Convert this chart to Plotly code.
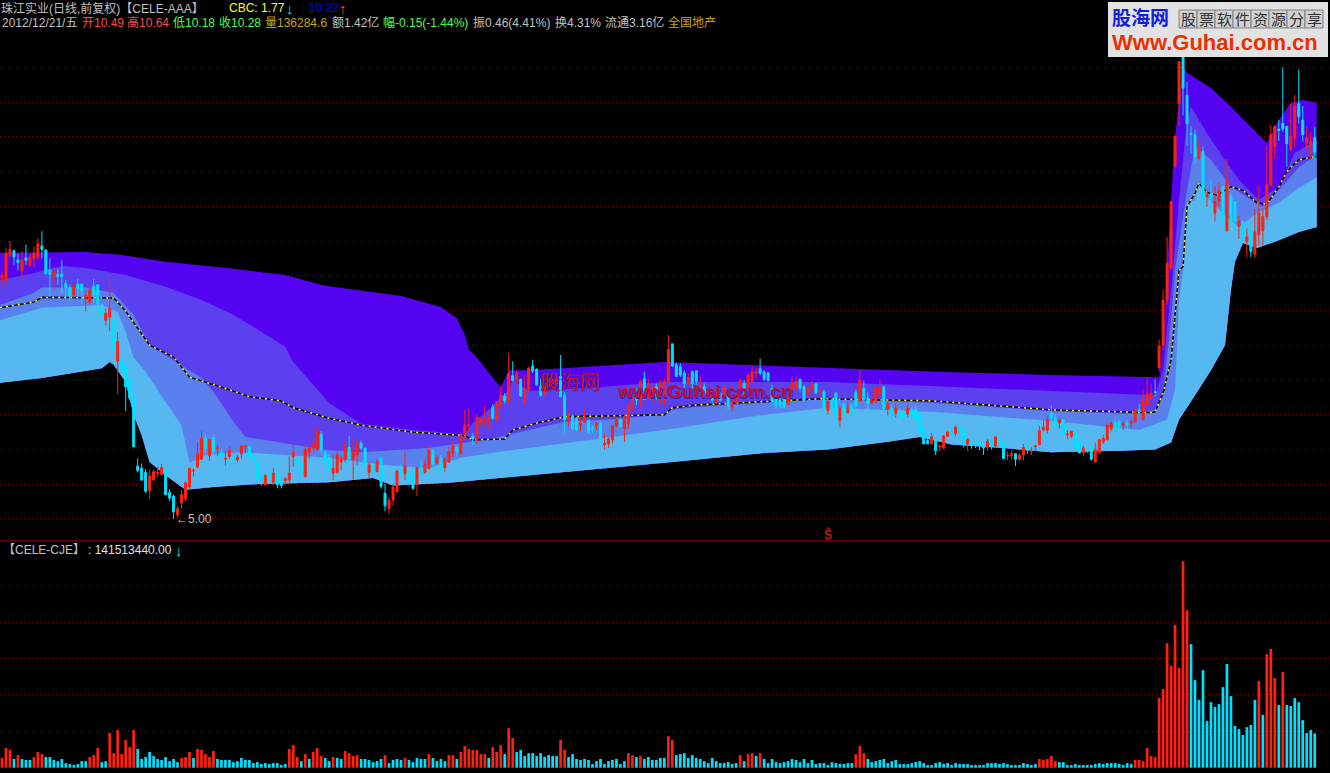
import plotly.graph_objects as go

W, H = 1330, 773

opens = [8.46,8.42,8.80,8.86,8.73,8.57,8.76,8.65,8.75,8.76,
8.93,8.87,8.58,8.49,8.52,8.52,8.39,8.33,8.22,8.38,
8.38,8.18,8.12,8.35,8.37,8.03,7.86,7.91,7.86,7.27,
7.32,7.20,7.00,6.74,5.76,5.73,5.67,5.41,5.56,5.66,
5.64,5.70,5.38,5.33,5.06,5.23,5.29,5.46,5.69,5.75,
5.86,6.16,5.91,6.17,6.01,5.96,5.86,5.90,5.92,5.85,
5.94,6.04,6.04,5.90,5.82,5.61,5.49,5.66,5.53,5.66,
5.54,5.55,5.56,5.90,5.85,5.80,5.61,5.96,6.02,6.00,
6.22,5.96,5.88,5.66,5.67,5.82,5.86,6.03,5.86,5.92,
6.09,6.02,5.67,5.77,5.68,5.87,5.37,5.15,5.27,5.39,
5.71,5.65,5.68,5.61,5.50,5.73,5.67,5.73,5.99,5.80,
5.87,5.74,5.82,5.94,6.03,5.94,6.21,6.34,6.19,6.14,
6.37,6.41,6.41,6.61,6.41,6.64,6.77,6.69,7.06,6.98,
7.01,6.67,6.85,7.20,7.15,6.91,6.78,6.90,6.95,6.93,
7.05,6.78,6.40,6.48,6.45,6.34,6.40,6.42,6.30,6.34,
6.38,6.07,6.08,6.14,6.34,6.43,6.30,6.37,6.58,6.78,
6.66,7.02,6.75,6.71,6.90,6.78,6.66,6.98,7.52,7.22,
7.19,7.10,6.95,7.12,7.13,6.83,6.90,6.78,6.83,6.67,
6.81,6.74,6.78,6.61,6.67,6.81,6.95,6.90,6.98,7.09,
7.16,7.12,7.10,6.88,6.76,6.71,6.74,6.65,6.86,6.88,
7.01,6.90,6.78,6.86,6.95,6.83,6.83,6.56,6.71,6.81,
6.42,6.66,6.53,6.64,6.82,6.70,6.88,6.74,6.66,6.70,
6.81,6.90,6.59,6.59,6.52,6.57,6.53,6.51,6.57,6.57,
6.50,6.30,6.13,6.08,6.14,6.04,6.02,6.19,6.26,6.23,
6.32,6.27,6.08,6.11,6.09,6.11,6.05,6.03,6.13,6.05,
6.15,6.09,5.91,5.91,5.94,5.86,5.92,6.04,5.97,6.04,
6.07,6.28,6.28,6.52,6.45,6.38,6.43,6.21,6.19,6.26,
6.11,5.95,6.04,6.02,5.82,5.95,6.11,6.14,6.30,6.39,
6.40,6.35,6.38,6.37,6.40,6.57,6.43,6.64,6.74,6.83,
7.18,7.50,8.15,8.61,10.08,10.98,11.65,11.10,10.55,10.53,
10.19,10.29,9.64,9.68,9.40,9.57,9.78,9.15,9.64,9.57,
9.21,9.28,8.99,9.18,8.81,9.09,9.15,9.35,9.81,10.36,
10.61,10.69,10.65,10.31,10.48,10.98,10.74,10.41,10.38,10.49]

highs = [8.56,8.89,9.00,8.88,8.82,8.85,8.95,8.82,8.92,9.04,
9.14,8.88,8.75,8.63,8.60,8.73,8.44,8.37,8.37,8.45,
8.38,8.29,8.37,8.45,8.38,8.10,8.03,8.46,7.89,7.69,
7.37,7.26,7.03,6.81,5.87,5.80,5.72,5.71,5.71,5.75,
5.79,5.71,5.43,5.35,5.19,5.42,5.54,5.74,5.73,6.10,
6.27,6.22,6.15,6.22,6.07,6.01,5.98,6.04,5.95,5.92,
6.06,6.06,6.05,5.94,5.83,5.69,5.64,5.69,5.73,5.67,
5.56,5.60,5.90,6.09,5.88,5.86,6.07,6.04,6.19,6.36,
6.27,5.98,5.93,5.92,5.97,5.91,6.15,6.19,6.16,6.16,
6.13,6.02,5.82,5.80,5.86,5.90,5.51,5.32,5.51,5.71,
5.79,5.97,5.73,5.73,5.74,5.85,5.85,6.05,5.99,5.92,
5.92,5.89,6.04,6.11,6.05,6.23,6.57,6.59,6.24,6.50,
6.47,6.63,6.52,6.65,6.69,6.91,6.81,7.39,7.27,7.14,
7.02,7.07,7.19,7.29,7.17,7.02,6.93,7.07,7.05,7.07,
7.36,6.83,6.53,6.50,6.47,6.47,6.56,6.43,6.35,6.39,
6.40,6.23,6.18,6.35,6.47,6.45,6.50,6.66,6.76,6.88,
7.00,7.12,7.01,6.93,6.95,7.00,7.02,7.65,7.52,7.25,
7.24,7.14,7.10,7.14,7.14,7.05,6.95,6.88,6.88,6.83,
6.83,6.93,6.81,6.71,6.81,7.01,7.00,7.10,7.19,7.17,
7.31,7.14,7.12,6.93,6.78,6.74,6.76,6.76,7.05,7.05,
7.02,6.93,6.90,6.98,6.96,6.86,6.86,6.71,6.74,6.83,
6.62,6.66,6.69,6.66,6.86,7.14,6.99,6.82,6.77,6.91,
7.01,6.91,6.69,6.64,6.66,6.59,6.57,6.66,6.59,6.63,
6.51,6.30,6.19,6.24,6.16,6.08,6.21,6.27,6.30,6.35,
6.34,6.29,6.16,6.19,6.14,6.13,6.11,6.15,6.14,6.19,
6.16,6.10,5.97,5.99,5.95,5.95,6.08,6.05,6.03,6.05,
6.34,6.42,6.48,6.63,6.52,6.46,6.44,6.28,6.27,6.26,
6.13,6.05,6.06,6.03,6.10,6.15,6.21,6.37,6.40,6.45,
6.43,6.40,6.43,6.43,6.58,6.66,6.86,7.04,6.94,7.01,
7.58,8.30,9.06,9.57,10.51,11.58,11.85,11.29,10.65,10.60,
10.48,10.36,9.73,9.88,9.79,9.83,9.79,10.18,9.69,9.57,
9.36,9.29,9.18,9.21,9.46,9.79,9.47,10.36,10.67,10.67,
10.74,11.50,10.65,10.97,11.10,11.47,10.94,10.64,10.57,10.64]

lows = [8.32,8.40,8.75,8.65,8.58,8.46,8.65,8.62,8.62,8.73,
8.75,8.52,8.20,8.31,8.37,8.25,8.20,8.14,8.17,8.20,
8.10,7.99,8.10,8.10,7.89,7.77,7.78,7.70,7.42,6.80,
7.13,6.55,6.71,6.03,5.67,5.55,5.37,5.29,5.55,5.60,
5.63,5.34,5.26,5.00,5.02,5.15,5.25,5.43,5.61,5.73,
5.85,5.95,5.84,5.93,5.91,5.85,5.77,5.87,5.82,5.81,
5.87,5.94,5.87,5.81,5.54,5.48,5.48,5.54,5.49,5.44,
5.44,5.48,5.50,5.75,5.74,5.53,5.59,5.86,5.97,5.97,
5.95,5.79,5.68,5.56,5.65,5.70,5.82,5.78,5.57,5.78,
5.99,5.75,5.58,5.65,5.67,5.44,5.11,5.07,5.19,5.38,
5.62,5.56,5.51,5.42,5.33,5.61,5.65,5.71,5.70,5.79,
5.69,5.68,5.81,5.89,5.90,5.93,6.15,6.28,6.06,6.08,
6.35,6.33,6.28,6.43,6.40,6.61,6.66,6.66,6.98,6.93,
6.76,6.65,6.83,7.10,6.91,6.76,6.77,6.88,6.90,6.90,
6.75,6.24,6.33,6.28,6.26,6.26,6.38,6.23,6.24,6.28,
6.10,6.00,6.02,6.09,6.32,6.32,6.11,6.30,6.56,6.64,
6.61,6.71,6.72,6.69,6.71,6.66,6.64,6.95,7.19,7.04,
7.04,6.86,6.93,6.83,6.90,6.81,6.74,6.71,6.66,6.65,
6.69,6.71,6.57,6.54,6.66,6.80,6.78,6.88,6.95,7.02,
7.07,6.99,6.98,6.67,6.58,6.59,6.59,6.64,6.83,6.86,
6.83,6.69,6.77,6.83,6.80,6.74,6.57,6.50,6.54,6.46,
6.32,6.48,6.51,6.46,6.59,6.69,6.70,6.58,6.65,6.67,
6.74,6.56,6.49,6.38,6.46,6.45,6.38,6.46,6.43,6.42,
6.24,6.08,6.08,6.08,5.92,5.98,6.00,6.18,6.18,6.19,
6.21,6.03,5.98,6.01,6.02,5.99,5.92,5.98,6.00,6.03,
6.02,5.86,5.85,5.86,5.76,5.84,5.84,5.94,5.92,5.97,
6.06,6.26,6.23,6.32,6.32,6.30,6.18,6.15,6.16,5.99,
5.95,5.90,5.95,5.84,5.82,5.94,6.08,6.13,6.26,6.28,
6.24,6.28,6.28,6.30,6.39,6.50,6.42,6.63,6.71,6.76,
7.12,7.43,8.08,8.58,10.05,10.65,10.81,10.37,10.26,10.11,
10.17,9.54,9.49,9.41,9.28,9.49,9.21,9.13,9.21,9.16,
9.03,8.97,8.77,8.77,8.75,8.94,8.94,9.30,9.78,10.18,
10.44,10.57,10.07,10.29,10.36,10.69,10.43,10.32,10.17,10.18]

closes = [8.51,8.82,8.88,8.77,8.69,8.73,8.72,8.77,8.82,8.96,
8.88,8.53,8.52,8.55,8.49,8.49,8.33,8.21,8.36,8.32,
8.29,8.22,8.29,8.22,8.09,7.97,7.96,8.03,7.44,7.55,
7.14,6.90,6.74,6.04,5.70,5.56,5.40,5.62,5.68,5.67,
5.74,5.35,5.30,5.10,5.15,5.35,5.52,5.73,5.70,5.94,
6.16,6.01,6.14,5.97,6.02,5.90,5.87,5.99,5.85,5.89,
6.05,6.05,5.89,5.85,5.57,5.56,5.63,5.59,5.66,5.49,
5.48,5.58,5.66,5.96,5.81,5.66,6.00,6.02,6.09,6.27,
6.00,5.84,5.70,5.73,5.92,5.87,6.05,5.87,5.98,6.09,
6.02,5.77,5.78,5.66,5.82,5.47,5.19,5.27,5.46,5.69,
5.63,5.76,5.56,5.44,5.74,5.66,5.78,5.99,5.79,5.89,
5.70,5.86,5.97,6.06,5.97,6.21,6.35,6.35,6.15,6.46,
6.46,6.43,6.46,6.45,6.69,6.78,6.70,7.09,6.99,7.10,
6.77,6.88,7.17,7.13,6.93,6.78,6.91,7.02,7.00,7.02,
6.76,6.43,6.52,6.30,6.28,6.38,6.46,6.26,6.29,6.38,
6.14,6.09,6.15,6.34,6.43,6.33,6.47,6.64,6.74,6.71,
6.98,6.72,6.88,6.88,6.78,6.95,6.98,7.44,7.20,7.05,
7.07,6.95,7.04,6.95,6.98,6.95,6.78,6.86,6.71,6.78,
6.71,6.88,6.63,6.66,6.78,7.00,6.88,7.07,7.12,7.12,
7.10,7.01,6.99,6.69,6.64,6.63,6.61,6.74,6.95,6.98,
6.88,6.71,6.88,6.93,6.81,6.85,6.59,6.69,6.59,6.48,
6.59,6.51,6.59,6.50,6.62,7.00,6.72,6.66,6.72,6.89,
6.88,6.59,6.66,6.50,6.59,6.47,6.46,6.59,6.46,6.43,
6.26,6.08,6.08,6.18,5.98,6.05,6.19,6.25,6.21,6.32,
6.26,6.08,6.14,6.06,6.08,6.05,6.02,6.12,6.04,6.18,
6.08,5.87,5.92,5.94,5.86,5.92,6.03,5.99,5.98,6.05,
6.27,6.32,6.43,6.45,6.33,6.43,6.20,6.22,6.26,6.02,
5.95,6.02,6.03,5.86,6.00,6.14,6.16,6.35,6.38,6.30,
6.32,6.37,6.35,6.40,6.56,6.54,6.70,6.80,6.81,6.82,
7.49,8.15,8.68,9.57,10.51,11.58,11.20,10.69,10.53,10.21,
10.36,9.61,9.66,9.61,9.57,9.73,9.30,9.89,9.28,9.28,
9.29,9.06,9.06,8.85,9.13,9.40,9.35,9.81,10.53,10.65,
10.59,10.61,10.40,10.51,10.94,10.79,10.53,10.49,10.44,10.28]

volumes = [41,81,73,36,52,36,32,32,44,65,
56,44,44,32,27,36,19,15,11,15,
27,27,44,52,81,23,27,143,60,155,
56,114,85,155,77,36,44,65,48,36,
32,44,27,36,23,40,44,65,40,77,
73,56,44,69,36,32,32,32,23,27,
40,32,32,19,23,15,19,15,19,19,
11,15,
77,93,44,27,56,36,65,81,48,40,
27,44,40,36,69,60,48,52,36,36,
32,23,27,36,52,19,32,36,32,40,
32,23,40,36,36,56,40,27,36,27,
52,52,36,65,89,77,73,73,56,56,
40,85,65,93,56,163,122,65,73,48,
60,60,48,60,44,52,48,48,114,73,
44,56,36,32,36,32,15,27,36,15,
27,32,36,15,27,60,52,44,48,36,
44,32,32,
40,40,130,114,52,56,60,40,52,40,
36,27,19,40,27,19,19,23,15,19,
52,27,56,60,48,60,36,19,36,23,
19,23,27,36,32,23,36,19,32,15,
19,19,11,23,19,15,15,19,19,56,
89,60,36,23,27,32,36,19,27,32,
15,15,15,19,23,27,19,11,11,19,
23,15,19,11,19,15,15,15,11,11,
11,11,19,19,19,15,19,15,11,11,
11,19,15,11,15,36,32,36,48,27,
23,23,11,11,15,11,11,11,11,15,
19,15,19,19,19,15,11,19,15,32,
32,27,81,48,44,287,324,513,419,588,
411,851,649,509,361,279,402,192,270,250,
262,332,427,295,172,159,135,167,176,279,
357,217,468,489,369,258,394,258,254,287,
270,196,143,155,141.5]

volume_signs = ("RRRCRCCCRR" "RCCCCCCCCC" "CCRRRCCRRR" "RRRRCCCCCC" "CCCCCRRRCR"
                "RRRRCCCCCC" "CCCCCCCCCC" "CC"
                "RRRCRCRRRC" "CRCCRRRRCC" "CCCCRCCCCR" "CCCCCRCCCC" "RRCRRRRRRR"
                "CRRRCRRCCC" "CCCCCCCCRR" "CCCCCCCCCC" "CCCCCRRCRC" "CCC"
                "CCRRCCCCCC" "CCCCCCCCCC" "RCRRCRCCCC" "CCCCCCCCCC" "CCCCCCCCCR"
                "RRCCCCCCCC" "CCCCCCCCCC" "CCCCCCCCCC" "CCCCCCCCCC" "CCCCCRRRRR"
                "CCCCCCCCCC" "CCCCCCCCCR" "RRRRRRRRRR" "RRRCCCCCCC" "CCCCCCCCCC"
                "RCRRRCRCCC" "CCCCC")

top_days = [-.5,10,21,30,41,58,71,80,82,100,110,114,116,117,118,120,123,125,127,132,166,207,234,263,285,290,291,292,293,294,296,297,303,307,312,317,320,323,326,329.5]
top_band = [8.83,8.84,8.84,8.80,8.70,8.60,8.51,8.37,8.35,8.21,8.05,7.89,7.65,7.43,7.39,7.25,7.04,6.89,7.14,7.14,7.26,7.17,7.12,7.07,7.04,7.04,7.58,8.63,9.59,10.50,11.50,11.42,11.20,10.99,10.70,10.41,10.74,10.99,11.03,10.99]

upper_days = [-.5,8,15,21,31,41,50,58,71,73,82,90,103,116,118,122,127,128,132,150,166,207,234,263,285,289,291,293,295,297,298,302,306,310,315,320,324,329.5]
upper_band = [8.44,8.54,8.64,8.61,8.51,8.34,8.15,7.94,7.48,7.26,6.67,6.37,6.28,6.22,6.38,6.57,6.86,7.00,6.84,6.90,6.97,6.97,6.91,6.84,6.78,6.78,7.14,8.30,9.59,10.74,10.93,10.55,10.21,9.88,9.59,9.78,10.27,10.45]

middle_days = [-.5,8,10,21,28,33,37,50,53,58,61,71,82,90,107,124,141,152,166,168,174,207,234,263,285,289,291,293,294,297,299,303,308,312,316,320,325,329.5]
middle_band = [8.08,8.25,8.33,8.33,8.25,7.94,7.50,7.03,6.83,6.40,6.18,6.09,5.99,5.96,6.02,6.17,6.40,6.43,6.50,6.57,6.61,6.73,6.67,6.55,6.51,6.57,6.78,7.86,8.58,9.73,10.35,10.17,9.78,9.63,9.49,9.73,10.06,10.24]

lower_days = [-.5,10,25,29,31,33,36,41,45,47,51,60,71,82,95,107,115,124,141,166,191,207,234,263,285,292,294,295,296,297,299,300,302,306.5,310,314.5,320,325,329.5]
lower_band = [7.86,8.04,8.08,7.98,7.69,7.32,7.12,6.68,6.35,5.81,5.92,5.96,5.92,5.88,5.78,5.73,5.88,5.96,6.09,6.28,6.50,6.60,6.54,6.41,6.28,6.43,6.86,8.15,8.58,9.55,9.59,9.85,9.63,9.37,9.20,9.40,9.55,9.76,9.92]

floor_days = [-.5,10,25,27,28,31,33,35,37,41,46,53,63,82,93,98,112,141,166,191,207,222,230,238,251,263,280,289,293,295,299,303,306.5,308,309,311,314.5,320,325,329.5]
floor_band = [6.96,7.03,7.17,7.26,7.22,6.97,6.50,6.21,5.82,5.63,5.42,5.46,5.50,5.53,5.59,5.48,5.52,5.68,5.81,5.95,6.00,6.11,6.18,6.07,6.02,5.96,5.98,6.00,6.10,6.43,6.78,7.14,7.50,8.30,8.70,8.97,8.90,9.01,9.13,9.20]

cost_days = [-.5,8,10,28,31,34,37,43,47,56,62,70,73,82,90,103,116,118,126,128,134,141,166,168,174,205,233,247,263,288,289,291,293,295,296,297,299,300,302,304.5,308,311,314.5,317,320,322,325,329.5]
cost_line = [8.04,8.12,8.19,8.18,7.99,7.75,7.50,7.33,7.04,6.88,6.76,6.70,6.60,6.45,6.35,6.25,6.20,6.14,6.15,6.28,6.38,6.47,6.50,6.60,6.64,6.73,6.70,6.64,6.57,6.53,6.54,6.81,7.29,8.58,8.63,9.49,9.69,9.83,9.70,9.66,9.78,9.73,9.55,9.53,9.78,10.00,10.17,10.22]

price_ticks = [5,5.5,6,6.5,7,7.5,8,8.5,9,9.5,10,10.5,11,11.5]
volume_ticks = [150,300,450,600,750]

RED = "#FF2010"
CYAN = "#00E0FF"
GRID = "#7A0808"
days = list(range(len(closes)))

fig = go.Figure()

def band(xs, ys, color):
    fig.add_trace(go.Scatter(
        x=xs + floor_days[::-1], y=ys + floor_band[::-1], mode="lines", fill="toself",
        fillcolor=color, line=dict(width=0, color=color), hoverinfo="skip", showlegend=False,
    ))

band(top_days, top_band, "#5404F0")
band(upper_days, upper_band, "#5A40EE")
band(middle_days, middle_band, "#5A80EE")
band(lower_days, lower_band, "#56B8F0")

fig.add_trace(go.Scatter(x=cost_days, y=cost_line, mode="lines", line=dict(color="#000000", width=1.4),
                         hoverinfo="skip", showlegend=False))
fig.add_trace(go.Scatter(x=cost_days, y=cost_line, mode="lines",
                         line=dict(color="#FFFF40", width=1.4, dash="2px,4px"),
                         hoverinfo="skip", showlegend=False))

fig.add_trace(go.Candlestick(
    x=days, open=opens, high=highs, low=lows, close=closes, yaxis="y3",
    increasing=dict(line=dict(color=RED, width=1), fillcolor=RED),
    decreasing=dict(line=dict(color=CYAN, width=1), fillcolor=CYAN),
    whiskerwidth=0, hoverinfo="skip", showlegend=False,
))

fig.add_trace(go.Bar(
    x=days, y=volumes, yaxis="y2", width=0.68,
    marker=dict(color=[RED if s == "R" else CYAN for s in volume_signs], line=dict(width=0)),
    hoverinfo="skip", showlegend=False,
))

price_range = [4.683, 12.468]
pane = 232 / H

fig.update_layout(
    width=W, height=H, autosize=False,
    margin=dict(l=0, r=0, t=0, b=0),
    paper_bgcolor="#000000", plot_bgcolor="#000000",
    boxgap=0.5, boxgroupgap=0, showlegend=False, barmode="overlay",
    xaxis=dict(range=[-0.5, 332.83], visible=False, rangeslider=dict(visible=False), fixedrange=True),
    yaxis=dict(domain=[pane, 1], range=price_range, tickvals=price_ticks, showticklabels=False, ticks="",
               showgrid=True, gridcolor=GRID, griddash="1px,3px", gridwidth=1, zeroline=False, showline=False),
    yaxis2=dict(domain=[0, pane], range=[-21.8, 934], tickvals=volume_ticks, showticklabels=False, ticks="",
                showgrid=True, gridcolor=GRID, griddash="1px,3px", gridwidth=1, zeroline=False, showline=False),
    yaxis3=dict(overlaying="y", range=price_range, visible=False),
    font=dict(family="Liberation Sans, Noto Sans CJK SC", color="#C0C0C0", size=12),
)

# separator between the two panes
fig.add_shape(type="line", xref="paper", yref="paper", x0=0, x1=1, y0=pane, y1=pane,
              line=dict(color="#A80000", width=1), layer="above")

def label(x, y, text, color="#C0C0C0", size=12, bold=False, family=None, anchor="left"):
    font = dict(color=color, size=size)
    if family:
        font["family"] = family
    fig.add_annotation(xref="paper", yref="paper", x=x / W, y=1 - y / H, text=f"<b>{text}</b>" if bold else text,
                       showarrow=False, xanchor=anchor, yanchor="middle", font=font,
                       borderpad=0, borderwidth=0)

# header, first line
label(1, 8, "珠江实业(日线,前复权)【CELE-AAA】")
label(229, 8, "CBC: 1.77", "#FFFF00")
label(286, 8, "↓", "#00E0FF", 15)
label(302, 8, ": 10.22", "#0000FF")
label(339, 8, "↑", "#FF4040", 15)

# header, second line
label(2, 23, "2012/12/21/五")
label(82, 23, "开10.49", "#FF4848")
label(127, 23, "高10.64", "#FF4848")
label(173, 23, "低10.18", "#48FF48")
label(219, 23, "收10.28", "#48FF48")
label(265, 23, "量136284.6", "#C8A800")
label(332, 23, "额1.42亿")
label(383, 23, "幅-0.15(-1.44%)", "#48FF48")
label(473, 23, "振0.46(4.41%)")
label(555, 23, "换4.31%")
label(605, 23, "流通3.16亿")
label(668, 23, "全国地产", "#C8A800")

# lower pane title
label(3, 550, "【CELE-CJE】")
label(88, 550, ": 141513440.00", "#E0E0E0")
label(175, 550, "↓", "#00E0FF", 15)

# low price mark
fig.add_annotation(x=43, y=5.00, yref="y3", text="←5.00", showarrow=False, xanchor="left", yanchor="middle",
                   font=dict(color="#C0C0C0", size=12))

# signal mark
label(828, 534, "Ŝ", "#FF2010", 12, anchor="center")

# watermark
for dx, dy, color in [(1, 1, "#2020C0"), (0, 0, "#C01030")]:
    label(540 + dx, 381 + dy, "股海网", color, 20, family="Noto Sans CJK SC")
    label(617 + dx, 391 + dy, "www.Guhai.com.cn", color, 19, bold=True)

# logo banner
fig.add_shape(type="rect", xref="paper", yref="paper", x0=1108 / W, x1=1328 / W, y0=1 - 57 / H, y1=1 - 2 / H,
              fillcolor="#E2E2E2", line=dict(width=0), layer="above")
label(1112, 17, "股海网", "#1020D8", 19, bold=True, family="Noto Sans CJK SC")
for n, ch in enumerate("股票软件资源分享"):
    left = 1179 + n * 18
    fig.add_shape(type="rect", xref="paper", yref="paper", x0=left / W, x1=(left + 18) / W,
                  y0=1 - 28 / H, y1=1 - 10 / H, fillcolor="#D0D0D0",
                  line=dict(color="#808080", width=1), layer="above")
    label(left + 9, 19, ch, "#303030", 15, family="Noto Sans CJK SC", anchor="center")
label(1112, 43, "Www.Guhai.com.cn", "#E83000", 22, bold=True)

fig.write_html("out.html", config={"displayModeBar": False},
               post_script="document.body.style.margin='0';document.body.style.background='#000';")
